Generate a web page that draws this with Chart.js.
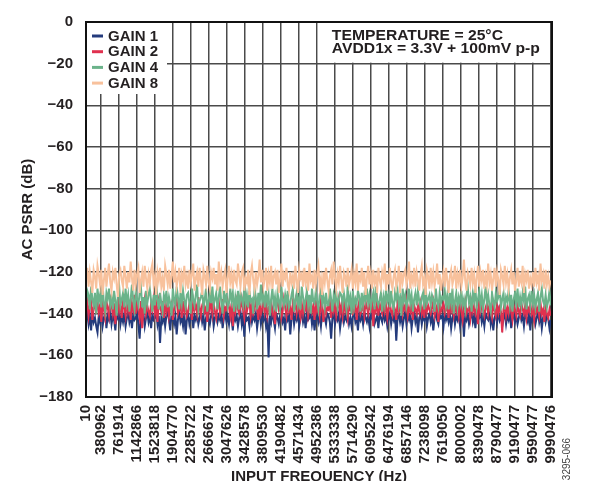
<!DOCTYPE html>
<html><head><meta charset="utf-8">
<script src="https://cdn.jsdelivr.net/npm/chart.js@4.4.0/dist/chart.umd.min.js"></script>
<style>html,body{margin:0;padding:0;background:#fff}canvas{display:block}</style>
</head><body>
<canvas id="c" width="595" height="481"></canvas>
<script>
const tickLabels = ['10','380962','761914','1142866','1523818','1904770','2285722','2666674','3047626','3428578','3809530','4190482','4571434','4952386','5333338','5714290','6095242','6476194','6857146','7238098','7619050','8000002','8390478','8790477','9190477','9590477','9990476'];
const seriesNames = ['GAIN 1','GAIN 2','GAIN 4','GAIN 8'];
const seriesColors = ['#243b7c','#e0314f','#6bb38a','#f8c19c'];
const annotationLines = ['TEMPERATURE = 25°C','AVDD1x = 3.3V + 100mV p-p'];
const xTitle = 'INPUT FREQUENCY (Hz)';
const yTitle = 'AC PSRR (dB)';
const figureId = '3295-066';

const gain8 = [
-123,-118,-127,-120,-125,-130,-119,-122,-128,-117,
-121,-126,-119,-131,-124,-118,-127,-121,-116,-125,
-129,-120,-123,-118,-126,-132,-121,-119,-124,-127,
-117,-122,-128,-120,-125,-115,-123,-129,-119,-126,
-121,-118,-130,-124,-120,-127,-117,-123,-128,-121,
-125,-119,-116,-126,-122,-131,-120,-124,-118,-127,
-123,-129,-117,-121,-126,-119,-128,-122,-115,-125,
-120,-127,-123,-118,-130,-121,-124,-117,-126,-122,
-128,-119,-125,-121,-116,-129,-123,-120,-127,-118,
-124,-131,-119,-122,-126,-117,-125,-128,-120,-123,
-118,-126,-121,-129,-115,-124,-120,-127,-122,-119,
-130,-123,-117,-125,-121,-128,-119,-124,-126,-116,
-122,-127,-120,-118,-129,-123,-125,-119,-131,-121,
-117,-124,-128,-120,-126,-122,-114,-125,-119,-127,
-123,-118,-129,-121,-125,-117,-128,-122,-120,-126,
-119,-130,-124,-116,-127,-121,-123,-118,-126,-129,
-120,-125,-122,-128,-117,-124,-130,-119,-123,-121,
-127,-118,-125,-120,-129,-116,-124,-122,-128,-119,
-126,-121,-117,-127,-123,-131,-120,-125,-118,-124,
-129,-122,-119,-126,-115,-123,-128,-121,-125,-117,
-124,-130,-120,-122,-127,-118,-126,-123,-119,-128,
-121,-125,-116,-129,-122,-124,-118,-127,-120,-131,
-123,-117,-126,-121,-128,-119,-125,-122,-130,-118,
-124,-127,-120,-123,-116,-129,-121,-126,-118,-125,
-128,-122,-119,-127,-124,-117,-130,-120,-125,-121,
-119,-126,-123,-115,-128,-122,-125,-118,-127,-120,
-124,-129,-121,-117,-126,-123,-131,-119,-122,-128,
-118,-125,-120,-127,-123,-116,-126,-121,-129,-124,
-120,-127,-118,-124,-130,-122,-119,-126,-123,-117,
-128,-121,-125,-119,-127,-123,-114,-124,-129,-120,
-122,-126,-118,-125,-121,-130,-123,-117,-127,-120,
-124,-119,-128,-122,-126,-116,-125,-121,-129,-123,
-118,-127,-120,-124,-131,-119,-122,-126,-117,-125,
-121,-128,-123,-119,-126,-120,-129,-124,-118,-127,
-122,-125,-117,-130,-121,-124,-119,-128,-123,-126,
-120,-127,-118,-125,-122,-129,-116,-124,-121,-128,
-119,-126,-122,-127,-124];

const gain4 = [
-135,-129,-131,-138,-127,-133,-136,-130,-140,-128,
-134,-131,-137,-126,-135,-139,-130,-133,-128,-136,
-132,-138,-129,-134,-141,-131,-127,-136,-133,-130,
-137,-128,-135,-131,-139,-133,-126,-134,-138,-129,
-133,-136,-130,-127,-137,-132,-140,-129,-135,-131,
-128,-134,-139,-131,-136,-125,-133,-138,-130,-135,
-139,-131,-134,-129,-137,-132,-135,-141,-128,-133,
-136,-127,-132,-138,-130,-135,-129,-134,-137,-131,
-130,-135,-140,-128,-133,-136,-131,-126,-138,-134,
-132,-129,-137,-133,-128,-139,-134,-130,-135,-127,
-136,-133,-130,-138,-132,-127,-135,-140,-129,-134,
-131,-137,-135,-128,-134,-130,-139,-132,-136,-129,
-138,-130,-133,-136,-127,-135,-131,-137,-129,-134,
-133,-140,-128,-132,-138,-130,-136,-126,-134,-131,
-137,-129,-135,-131,-141,-133,-128,-136,-132,-139,
-130,-134,-138,-127,-133,-136,-131,-135,-129,-137,
-135,-131,-128,-139,-134,-130,-136,-132,-138,-127,
-132,-137,-133,-129,-136,-131,-140,-128,-134,-135,
-129,-134,-138,-131,-127,-135,-132,-137,-130,-136,
-136,-128,-133,-139,-131,-134,-129,-137,-133,-130,
-131,-136,-130,-134,-138,-126,-135,-132,-140,-129,
-137,-133,-135,-129,-132,-139,-130,-136,-131,-134,
-128,-135,-131,-137,-133,-130,-138,-127,-134,-136,
-133,-130,-139,-132,-136,-128,-134,-131,-137,-129,
-135,-138,-130,-133,-129,-136,-132,-141,-128,-134,
-131,-137,-134,-128,-135,-131,-139,-133,-130,-136,
-129,-134,-137,-132,-130,-138,-127,-135,-133,-131,
-136,-131,-133,-139,-128,-134,-137,-130,-135,-132,
-133,-129,-136,-131,-138,-130,-135,-128,-140,-134,
-130,-137,-132,-135,-129,-136,-133,-138,-131,-127,
-135,-132,-139,-130,-134,-128,-137,-133,-129,-136,
-131,-138,-133,-127,-135,-131,-136,-139,-130,-134,
-137,-130,-134,-132,-128,-137,-133,-130,-138,-132,
-134,-129,-136,-131,-139,-133,-130,-135,-128,-137,
-132,-136,-130,-134,-127,-138,-133,-131,-136,-129,
-135,-131,-137,-133,-130,-139,-132,-128,-134,-136,
-131,-137,-134,-129,-136];

const gain2 = [
-138,-134,-141,-136,-133,-143,-137,-135,-140,-132,
-139,-136,-144,-135,-138,-142,-134,-137,-141,-133,
-136,-140,-135,-145,-138,-133,-139,-136,-142,-134,
-137,-141,-133,-139,-136,-143,-135,-138,-131,-140,
-135,-138,-142,-134,-147,-137,-133,-140,-136,-139,
-141,-135,-138,-133,-140,-136,-144,-134,-137,-139,
-134,-142,-136,-139,-133,-141,-137,-135,-143,-138,
-136,-133,-140,-138,-135,-142,-134,-139,-136,-141,
-139,-135,-137,-143,-134,-138,-136,-140,-132,-137,
-141,-136,-134,-139,-137,-144,-135,-138,-133,-140,
-135,-139,-142,-136,-134,-140,-138,-133,-141,-137,
-138,-134,-137,-141,-135,-146,-136,-139,-134,-138,
-140,-137,-133,-138,-142,-135,-139,-136,-134,-141,
-136,-140,-138,-134,-137,-143,-135,-140,-137,-133,
-139,-135,-141,-137,-136,-134,-140,-138,-145,-136,
-134,-138,-136,-142,-139,-133,-137,-141,-135,-139,
-137,-143,-135,-138,-134,-140,-136,-139,-142,-135,
-140,-136,-138,-133,-141,-137,-135,-139,-136,-143,
-135,-139,-137,-141,-134,-138,-144,-136,-140,-137,
-138,-134,-142,-136,-139,-135,-141,-137,-133,-140,
-136,-141,-134,-139,-137,-142,-135,-138,-136,-140,
-139,-135,-143,-137,-134,-140,-138,-136,-141,-134,
-137,-140,-136,-138,-135,-146,-137,-139,-134,-141,
-135,-138,-140,-134,-139,-136,-142,-137,-135,-139,
-141,-136,-138,-143,-135,-139,-137,-134,-140,-136,
-138,-134,-141,-137,-139,-135,-143,-136,-138,-140,
-136,-139,-135,-140,-137,-142,-134,-139,-136,-138,
-140,-137,-134,-141,-138,-136,-144,-135,-139,-137,
-135,-140,-138,-136,-142,-134,-139,-137,-141,-136,
-139,-136,-141,-135,-138,-143,-137,-134,-140,-138,
-137,-142,-135,-139,-136,-140,-138,-145,-134,-139,
-136,-138,-141,-137,-135,-140,-136,-139,-142,-135,
-138,-141,-136,-140,-137,-139,-149,-138,-135,-141,
-137,-140,-135,-139,-143,-136,-138,-141,-136,-139,
-141,-135,-138,-140,-136,-142,-137,-139,-135,-140,
-138,-143,-136,-139,-137,-141,-135,-140,-138,-144,
-136,-140,-142,-138,-141];

const gain1 = [
-143,-140,-145,-141,-148,-139,-144,-142,-146,-149,
-141,-144,-139,-146,-142,-140,-147,-141,-143,-139,
-145,-141,-143,-148,-140,-142,-139,-145,-141,-144,
-140,-146,-142,-139,-144,-141,-147,-140,-143,-142,
-139,-145,-152,-141,-143,-140,-146,-142,-139,-144,
-141,-147,-140,-143,-142,-139,-145,-141,-154,-142,
-144,-140,-146,-141,-139,-143,-148,-140,-142,-145,
-141,-150,-143,-139,-144,-142,-146,-140,-150,-143,
-140,-145,-142,-139,-147,-141,-143,-140,-145,-142,
-139,-144,-141,-148,-142,-140,-143,-145,-141,-139,
-146,-142,-140,-144,-141,-143,-139,-147,-142,-140,
-144,-141,-145,-139,-142,-148,-140,-143,-141,-146,
-142,-139,-145,-141,-151,-140,-143,-142,-146,-139,
-144,-141,-143,-140,-147,-142,-139,-145,-141,-143,
-140,-146,-142,-161,-141,-144,-139,-143,-147,-140,
-142,-145,-141,-139,-144,-142,-148,-140,-143,-141,
-150,-142,-139,-145,-141,-143,-140,-146,-142,-139,
-144,-141,-147,-140,-143,-142,-139,-145,-141,-148,
-142,-140,-144,-141,-146,-139,-143,-142,-145,-140,
-141,-144,-152,-142,-139,-145,-141,-143,-140,-147,
-142,-139,-144,-141,-143,-140,-145,-142,-146,-141,
-139,-144,-142,-148,-140,-143,-141,-145,-139,-142,
-144,-141,-146,-140,-142,-139,-145,-143,-141,-147,
-140,-142,-144,-139,-143,-141,-146,-142,-140,-145,
-141,-143,-139,-153,-142,-140,-144,-141,-146,-142,
-139,-145,-141,-143,-140,-147,-142,-139,-144,-141,
-149,-142,-140,-145,-141,-143,-139,-146,-142,-140,
-144,-141,-148,-142,-139,-143,-145,-140,-142,-141,
-146,-139,-143,-141,-144,-140,-147,-142,-139,-145,
-141,-143,-140,-146,-142,-139,-151,-141,-143,-140,
-145,-142,-139,-144,-141,-147,-140,-143,-142,-139,
-144,-141,-146,-140,-142,-143,-139,-145,-141,-148,
-142,-140,-144,-139,-143,-141,-146,-142,-140,-145,
-141,-143,-139,-147,-142,-140,-144,-141,-145,-142,
-139,-143,-141,-146,-140,-142,-144,-139,-148,-141,
-143,-140,-145,-142,-139,-144,-141,-147,-142,-140,
-144,-141,-142,-147,-143];

const Y_MIN = -180, Y_MAX = 0, Y_STEP = 20;

// layout constants (axis geometry in "grid division" units)
const FIRST_DIV = 1/6;
const LAST_DIV = tickLabels.length - 1;
const X_MAX = LAST_DIV + 0.07;

const seriesValues = [gain1, gain2, gain4, gain8];
function toPoints(vals){
  const n = vals.length;
  return vals.map((v,i)=>({x: FIRST_DIV + i*(LAST_DIV-FIRST_DIV)/(n-1), y: v}));
}

const FONT = "'Liberation Sans', Arial, Helvetica, sans-serif";
const TXT = '#231f20';
const GRID = '#4a4a4a';

const overlay = {
  id: 'overlay',
  beforeDatasetsDraw(chart){
    const {ctx, chartArea:a, scales} = chart;
    ctx.save();
    ctx.fillStyle = '#fff';
    ctx.fillRect(a.left+1, a.top+1, 80, 71);
    const bx = scales.x.getPixelForValue(13);
    const bxr = scales.x.getPixelForValue(LAST_DIV);
    const by = scales.y.getPixelForValue(-20);
    ctx.fillRect(bx+1, a.top+1, bxr-bx-2, by-a.top-2);
    ctx.fillStyle = TXT; ctx.font = "bold 14px " + FONT;
    ctx.textBaseline = 'alphabetic'; ctx.textAlign = 'left';
    [18.3, 30.8].forEach((dy, k) => {
      ctx.save();
      ctx.translate(bx+15, a.top+dy);
      ctx.scale(1.12, 1);
      ctx.fillText(annotationLines[k], 0, 0);
      ctx.restore();
    });
    ctx.font = "bold 15px " + FONT; ctx.textBaseline = 'middle';
    chart.data.datasets.forEach((ds,k)=>{
      const y = a.top + 14 + k*15.7;
      ctx.strokeStyle = ds.borderColor; ctx.lineWidth = 3;
      ctx.beginPath(); ctx.moveTo(a.left+6, y); ctx.lineTo(a.left+17, y); ctx.stroke();
      ctx.fillStyle = TXT;
      ctx.fillText(ds.label, a.left+22, y+0.5);
    });
    ctx.restore();
  },
  afterDatasetsDraw(chart){
    const {ctx, chartArea:a} = chart;
    ctx.save();
    ctx.strokeStyle = '#111'; ctx.lineWidth = 2;
    ctx.strokeRect(a.left, a.top, a.right-a.left, a.bottom-a.top);
    ctx.restore();
  },
  afterDraw(chart){
    const {ctx} = chart;
    ctx.save();
    ctx.translate(567, 459); ctx.rotate(-Math.PI/2);
    ctx.font = "10px " + FONT; ctx.fillStyle = '#444';
    ctx.textAlign = 'center'; ctx.textBaseline = 'middle';
    ctx.fillText(figureId, 0, 0);
    ctx.restore();
  }
};

new Chart(document.getElementById('c'), {
  type: 'line',
  data: {
    datasets: seriesValues.map((vals,k)=>({
      label: seriesNames[k],
      data: toPoints(vals),
      borderColor: seriesColors[k],
      backgroundColor: seriesColors[k],
      borderWidth: 2,
      pointRadius: 0,
      tension: 0,
      fill: false,
      order: seriesValues.length - 1 - k
    }))
  },
  options: {
    responsive: false,
    animation: false,
    layout: { padding: { top: 20, right: 43, left: 0, bottom: 0 } },
    plugins: { legend: { display: false }, tooltip: { enabled: false } },
    scales: {
      x: {
        type: 'linear', min: FIRST_DIV, max: X_MAX,
        afterBuildTicks: s => { s.ticks = tickLabels.map((_,i)=>({value: i===0 ? FIRST_DIV : i})); },
        ticks: { autoSkip: false, minRotation: 90, maxRotation: 90, padding: 8, color: TXT,
                 font: { family: FONT, size: 15, weight: 'bold' },
                 callback: (v,i) => tickLabels[i] },
        grid: { color: GRID, lineWidth: 1.5, drawTicks: false },
        border: { display: false },
        title: { display: true, text: xTitle, color: TXT, font: { family: FONT, size: 15, weight: 'bold' },
                 padding: { top: 0, bottom: -5 } },
        afterFit: s => { s.height = 84; }
      },
      y: {
        min: Y_MIN, max: Y_MAX,
        ticks: { stepSize: Y_STEP, padding: 13, color: TXT, font: { family: FONT, size: 15, weight: 'bold' },
                 callback: v => v === 0 ? '0' : '\u2212' + Math.abs(v) },
        grid: { color: GRID, lineWidth: 1.5, drawTicks: false },
        border: { display: false },
        title: { display: true, text: yTitle, color: TXT, font: { family: FONT, size: 15, weight: 'bold' },
                 padding: { top: 19, bottom: 0 } },
        afterFit: s => { s.width = 86; }
      }
    }
  },
  plugins: [overlay]
});
</script>
</body></html>
